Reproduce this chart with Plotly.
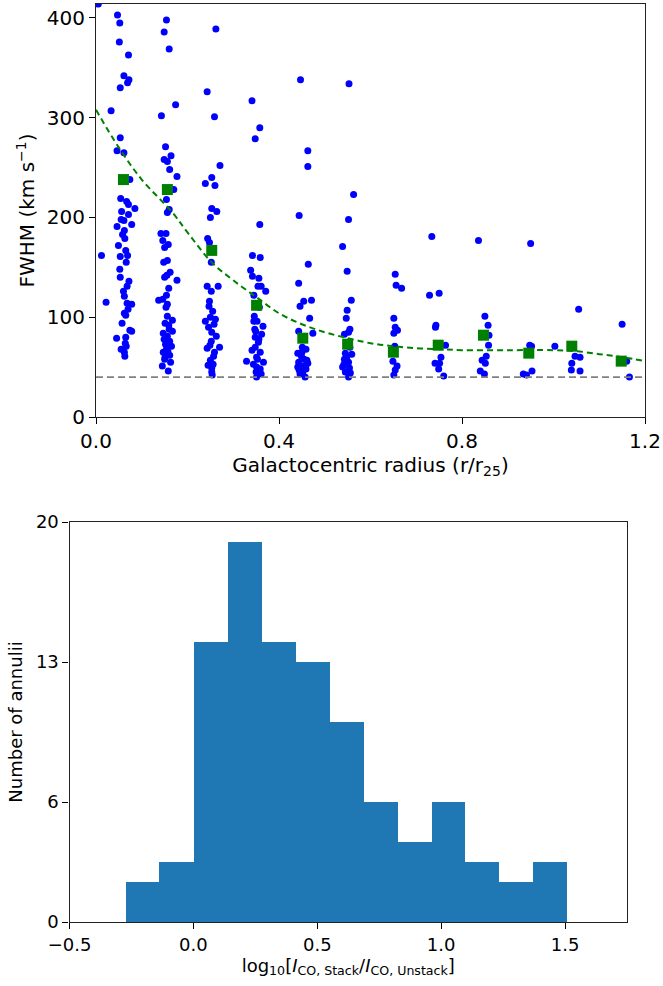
import plotly.graph_objects as go

# ---- top panel: FWHM vs galactocentric radius ----
radius = [
    0.005, 0.033, 0.012, 0.022,
    0.047, 0.052, 0.051, 0.071, 0.061, 0.072, 0.069, 0.053, 0.053, 0.046, 0.061, 0.074,
    0.054, 0.067, 0.071, 0.085, 0.056, 0.071, 0.055, 0.061, 0.046, 0.078, 0.062, 0.063,
    0.049, 0.053, 0.065, 0.069, 0.052, 0.053, 0.072, 0.068, 0.062, 0.068, 0.078, 0.062,
    0.065, 0.074, 0.078, 0.045, 0.065, 0.066, 0.055, 0.063, 0.062,
    0.058, 0.066, 0.060, 0.070, 0.057, 0.064,
    0.154, 0.149, 0.160, 0.174, 0.143, 0.152, 0.164, 0.149, 0.156, 0.161, 0.177, 0.170,
    0.154, 0.160, 0.156, 0.142, 0.153, 0.146, 0.158, 0.150, 0.156, 0.148, 0.162, 0.155,
    0.150, 0.177, 0.159, 0.154, 0.137, 0.146, 0.156, 0.156, 0.167, 0.151, 0.159, 0.167,
    0.147, 0.156, 0.161, 0.152, 0.165, 0.154, 0.147, 0.161, 0.150, 0.145, 0.158,
    0.153, 0.160, 0.149, 0.157, 0.163, 0.151,
    0.262, 0.243, 0.259, 0.271, 0.253, 0.239, 0.260, 0.253, 0.264, 0.250, 0.244, 0.248,
    0.252, 0.243, 0.267, 0.252, 0.248, 0.255, 0.250, 0.239, 0.261, 0.246, 0.253, 0.263,
    0.252, 0.270, 0.243, 0.259, 0.250, 0.256, 0.253, 0.253,
    0.247, 0.258, 0.249, 0.257, 0.245, 0.254,
    0.341, 0.358, 0.348, 0.358, 0.342, 0.359, 0.338, 0.342, 0.356, 0.361, 0.354, 0.371,
    0.345, 0.357, 0.345, 0.352, 0.365, 0.349, 0.362, 0.348, 0.355, 0.348, 0.359, 0.351,
    0.329, 0.366, 0.344, 0.351, 0.359, 0.350, 0.351,
    0.346, 0.356, 0.341, 0.353, 0.361, 0.347,
    0.447, 0.463, 0.463, 0.444, 0.464, 0.443, 0.454, 0.446, 0.471, 0.467, 0.443, 0.474,
    0.459, 0.441, 0.450, 0.455, 0.443, 0.463, 0.448, 0.459, 0.441, 0.452, 0.457,
    0.449, 0.458, 0.446, 0.461, 0.451, 0.444,
    0.553, 0.563, 0.552, 0.539, 0.549, 0.558, 0.549, 0.547, 0.555, 0.552, 0.543, 0.555,
    0.545, 0.559, 0.543, 0.552, 0.539, 0.554, 0.545, 0.552,
    0.548, 0.556, 0.542, 0.551,
    0.654, 0.656, 0.668, 0.651, 0.654, 0.659, 0.651, 0.653, 0.649, 0.658, 0.654, 0.651,
    0.734, 0.729, 0.750, 0.743, 0.742, 0.764, 0.754, 0.741, 0.751, 0.749, 0.760,
    0.836, 0.850, 0.857, 0.859, 0.858, 0.853, 0.844, 0.851, 0.840, 0.849,
    0.950, 0.948, 0.952, 0.953, 0.934, 0.941,
    1.003, 1.055, 1.047, 1.058, 1.040, 1.058, 1.039,
    1.150, 1.160, 1.166,
]
fwhm = [
    414, 307, 162, 115,
    403, 395, 376, 363, 342, 338, 335, 330, 280, 267, 265, 238,
    219, 216, 213, 209, 206, 203, 198, 197, 191, 193, 187, 179,
    172, 161, 167, 162, 148, 140, 136, 131, 121, 114, 113, 104,
    102, 87, 86, 79, 80, 71, 68, 61, 65,
    183, 155, 126, 108, 94, 74,
    398, 386, 369, 313, 302, 271, 262, 258, 256, 248, 241, 228,
    218, 208, 205, 184, 184, 177, 173, 170, 157, 155, 145, 142,
    140, 137, 129, 122, 117, 118, 113, 101, 97, 94, 92, 86,
    84, 81, 76, 73, 71, 68, 65, 62, 58, 51, 46,
    110, 88, 78, 66, 55, 60,
    389, 326, 301, 252, 240, 234, 232, 209, 206, 200, 179, 175,
    155, 131, 131, 126, 116, 106, 100, 96, 98, 90, 85, 81,
    76, 70, 69, 65, 57, 53, 49, 45,
    111, 93, 72, 61, 52, 42,
    317, 290, 279, 193, 162, 160, 147, 141, 139, 131, 131, 126,
    122, 110, 96, 96, 91, 86, 83, 80, 75, 70, 65, 60,
    56, 55, 53, 50, 48, 45, 40,
    101, 78, 67, 58, 43, 88,
    338, 267, 251, 202, 153, 134, 116, 111, 117, 99, 86, 84,
    68, 64, 65, 58, 55, 54, 51, 48, 50, 45, 40,
    61, 52, 43, 57, 70, 47,
    334, 223, 198, 171, 146, 117, 107, 99, 88, 85, 83, 70,
    64, 63, 58, 55, 50, 49, 45, 40,
    60, 44, 53, 75,
    143, 132, 129, 99, 90, 87, 84, 71, 56, 51, 47, 42,
    181, 122, 124, 92, 90, 72, 60, 54, 54, 48, 41,
    177, 101, 92, 82, 72, 61, 57, 54, 46, 43,
    174, 72, 71, 46, 43, 42,
    71, 108, 61, 60, 54, 46, 47,
    93, 56, 40,
]

bin_r = [0.06, 0.156, 0.253, 0.351, 0.452, 0.55, 0.65, 0.748, 0.847, 0.946, 1.04, 1.148]
bin_fwhm = [238, 228, 167, 112, 79, 73, 65, 72, 82, 64, 71, 56]

curve_r = [0.0, 0.05, 0.1, 0.167, 0.2, 0.253, 0.3, 0.351, 0.4, 0.45, 0.5, 0.55, 0.6,
           0.65, 0.7, 0.75, 0.8, 0.9, 1.0, 1.05, 1.1, 1.15, 1.2]
curve_fwhm = [308, 270, 238, 205, 185, 155, 137, 120, 104, 93, 85, 79, 74,
              71, 69, 68, 67, 67, 67, 66, 63, 60, 56]

resolution_limit = 40

# ---- bottom panel: histogram ----
bin_edges = [-0.276, -0.139, -0.001, 0.136, 0.274, 0.411, 0.548, 0.685, 0.822,
             0.959, 1.096, 1.233, 1.370, 1.507]
counts = [2, 3, 14, 19, 14, 13, 10, 6, 4, 6, 3, 2, 3]

W, H = 663, 986
FONT = "DejaVu Sans"

fig = go.Figure()

fig.add_trace(go.Scatter(x=radius, y=fwhm, mode="markers",
                         marker=dict(color="#0000ff", size=7, line=dict(width=0)),
                         xaxis="x", yaxis="y", showlegend=False))
fig.add_trace(go.Scatter(x=bin_r, y=bin_fwhm, mode="markers",
                         marker=dict(color="#008000", size=11, symbol="square", line=dict(width=0)),
                         xaxis="x", yaxis="y", showlegend=False))
fig.add_trace(go.Scatter(x=curve_r, y=curve_fwhm, mode="lines",
                         line=dict(color="#008000", width=2, dash="6px,4px", shape="spline"),
                         xaxis="x", yaxis="y", showlegend=False))
fig.add_trace(go.Scatter(x=[0, 1.2], y=[resolution_limit, resolution_limit], mode="lines",
                         line=dict(color="#808080", width=1.8, dash="7px,4px"),
                         xaxis="x", yaxis="y", showlegend=False))

widths = [b - a for a, b in zip(bin_edges[:-1], bin_edges[1:])]
fig.add_trace(go.Bar(x=bin_edges[:-1], y=counts, width=widths, offset=0,
                     marker=dict(color="#1f77b4", line=dict(width=0)),
                     xaxis="x2", yaxis="y2", showlegend=False))

axis_common = dict(showgrid=False, zeroline=False, showline=True, mirror=True,
                   linecolor="#222222", linewidth=1.2, ticks="outside", ticklen=6,
                   tickwidth=1.2, tickcolor="black", automargin=False)

fig.update_layout(
    width=W, height=H,
    margin=dict(l=0, r=0, t=0, b=0),
    plot_bgcolor="white", paper_bgcolor="white",
    font=dict(family=FONT, color="black"),
    bargap=0,
    xaxis=dict(domain=[96 / W, 645 / W], anchor="y", range=[0, 1.2],
               tickvals=[0, 0.4, 0.8, 1.2], ticktext=["0.0", "0.4", "0.8", "1.2"],
               tickfont=dict(size=20),
               title=dict(text="Galactocentric radius (r/r<sub>25</sub>)", font=dict(size=20), standoff=4),
               **axis_common),
    yaxis=dict(domain=[1 - 417 / H, 1 - 4 / H], anchor="x", range=[0, 414],
               tickvals=[0, 100, 200, 300, 400], tickfont=dict(size=20),
               title=dict(text="FWHM (km s<sup>\u22121</sup>)", font=dict(size=20), standoff=6),
               **axis_common),
    xaxis2=dict(domain=[69.5 / W, 627 / W], anchor="y2", range=[-0.5, 1.75],
                tickvals=[-0.5, 0, 0.5, 1.0, 1.5],
                ticktext=["\u22120.5", "0.0", "0.5", "1.0", "1.5"],
                tickfont=dict(size=18),
                title=dict(text="log<sub>10</sub>[<i>I</i><sub>CO, Stack</sub>/<i>I</i><sub>CO, Unstack</sub>]",
                           font=dict(size=18), standoff=4),
                **axis_common),
    yaxis2=dict(domain=[1 - 922 / H, 1 - 522 / H], anchor="x2", range=[0, 20],
                tickvals=[0, 6, 13, 20], tickfont=dict(size=18),
                title=dict(text="Number of annulii", font=dict(size=18), standoff=8),
                **axis_common),
)

# the default page body has an 8px margin; drop it so the figure sits at the corner
fig.write_html("out.html", config={"displayModeBar": False},
               post_script="document.body.style.margin='0';")
